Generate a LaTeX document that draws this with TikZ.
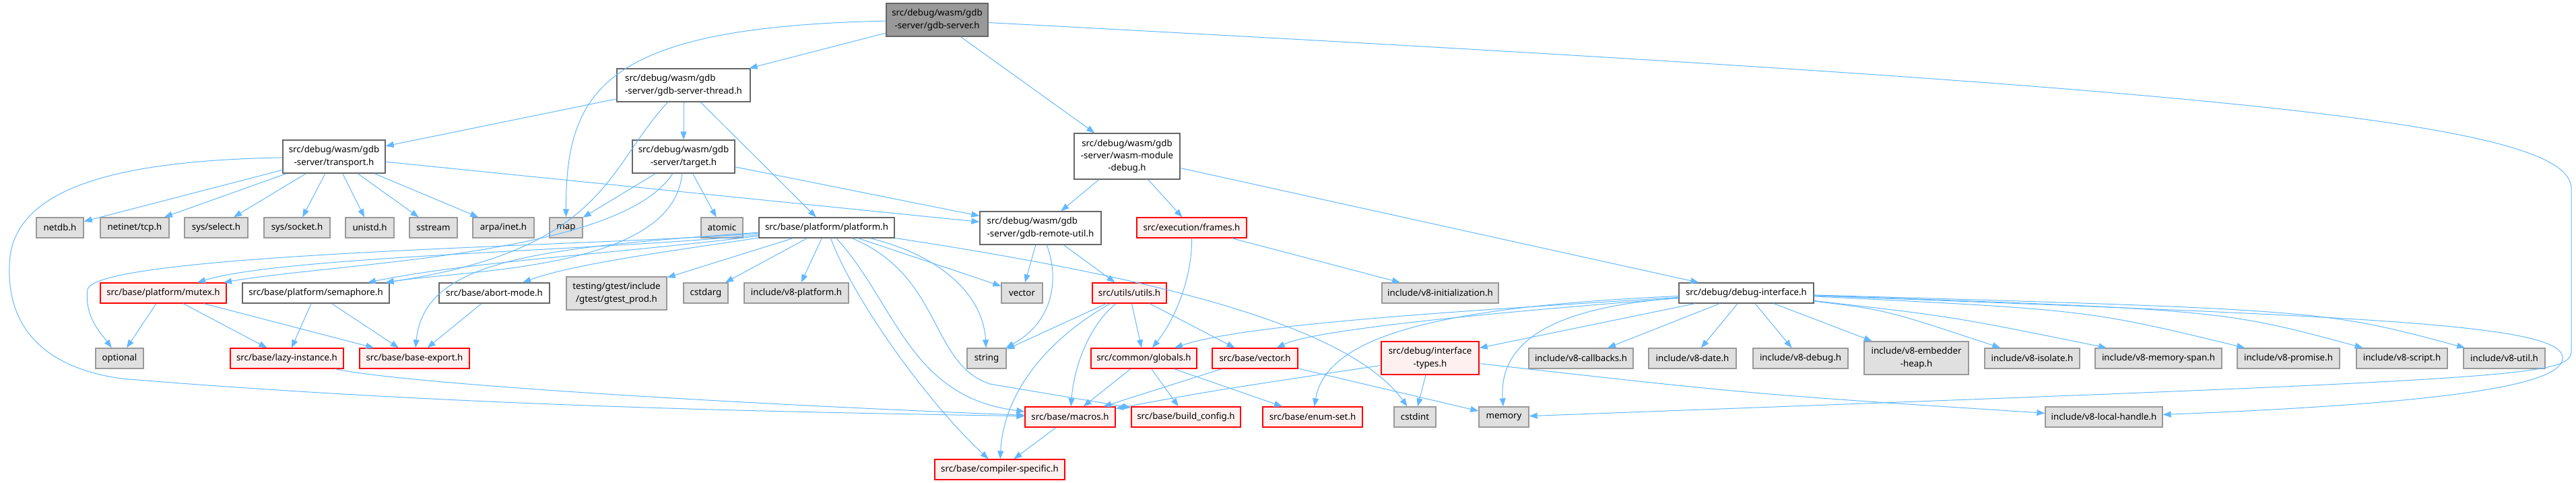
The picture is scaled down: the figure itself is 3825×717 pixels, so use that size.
\documentclass[tikz,border=0pt]{standalone}
\usepackage{fontspec}
\setsansfont{Noto Sans}
\usepackage{xcolor}
\usepackage{tikz}
\usetikzlibrary{arrows.meta}
\definecolor{edgeblue}{HTML}{63B8FF}
\definecolor{extfill}{HTML}{E0E0E0}
\definecolor{extline}{HTML}{999999}
\definecolor{hdrline}{HTML}{666666}
\definecolor{warnline}{HTML}{FF0000}
\definecolor{warnfill}{HTML}{FFF0F0}
\definecolor{curfill}{HTML}{999999}
\begin{document}
\begin{tikzpicture}[x=1pt, y=-1pt,
  box/.style={draw, line width=1.3pt, inner sep=0pt, minimum height=30pt,
              font=\fontsize{13.3}{18.3}\selectfont\sffamily, align=center},
  ext/.style={box, draw=extline, fill=extfill},
  hdr/.style={box, draw=hdrline, fill=white},
  warn/.style={box, draw=warnline, fill=warnfill},
  cur/.style={box, draw=hdrline, fill=curfill},
  ar/.style={-{Triangle[length=12pt, width=9pt]}, color=edgeblue, line width=1pt}
]
  \useasboundingbox (0,0) rectangle (3825,717);
  \node[cur, minimum width=151pt, minimum height=49pt] (gdbsrv) at (1391.5,29.5) {src/debug/wasm/gdb\\-server/gdb-server.h};
  \node[hdr, minimum width=198pt, minimum height=49pt, align=left] (thread) at (1015,126.5) {src/debug/wasm/gdb\\-server/gdb-server-thread.h};
  \node[hdr, minimum width=157pt, minimum height=68pt] (wmdebug) at (1673.5,232) {src/debug/wasm/gdb\\-server/wasm-module\\-debug.h};
  \node[hdr, minimum width=152pt, minimum height=49pt] (transport) at (496,232.5) {src/debug/wasm/gdb\\-server/transport.h};
  \node[hdr, minimum width=152pt, minimum height=49pt] (target) at (1015,232.5) {src/debug/wasm/gdb\\-server/target.h};

  \node[ext, minimum width=70pt] (netdb) at (89,338) {netdb.h};
  \node[ext, minimum width=102pt] (tcp) at (200,338) {netinet/tcp.h};
  \node[ext, minimum width=94pt] (sselect) at (321,338) {sys/select.h};
  \node[ext, minimum width=98pt] (ssocket) at (441,338) {sys/socket.h};
  \node[ext, minimum width=72pt] (unistd) at (549,338) {unistd.h};
  \node[ext, minimum width=71pt] (sstream) at (643.5,338) {sstream};
  \node[ext, minimum width=91pt] (inet) at (747.5,338) {arpa/inet.h};
  \node[ext, minimum width=49pt] (map) at (840.5,338) {map};
  \node[ext, minimum width=62pt] (atomic) at (1072,338) {atomic};
  \node[hdr, minimum width=201pt] (platform) at (1227.5,338) {src/base/platform/platform.h};
  \node[hdr, minimum width=180pt, minimum height=49pt, align=left] (remoteutil) at (1545,338.5) {src/debug/wasm/gdb\\-server/gdb-remote-util.h};
  \node[warn, minimum width=163pt] (frames) at (1769.5,338) {src/execution/frames.h};

  \node[warn, minimum width=187pt] (mutex) at (242.5,435) {src/base/platform/mutex.h};
  \node[hdr, minimum width=218pt] (semaphore) at (469,435) {src/base/platform/semaphore.h};
  \node[hdr, minimum width=164pt] (abortmode) at (734,435) {src/base/abort-mode.h};
  \node[ext, minimum width=149pt, minimum height=49pt] (gtest) at (915.5,435.5) {testing/gtest/include\\/gtest/gtest\_prod.h};
  \node[ext, minimum width=66pt] (cstdarg) at (1048,435) {cstdarg};
  \node[ext, minimum width=155pt] (v8platform) at (1182.5,435) {include/v8-platform.h};
  \node[ext, minimum width=61pt] (vector) at (1517.5,435) {vector};
  \node[warn, minimum width=110pt] (utils) at (1677,435) {src/utils/utils.h};
  \node[ext, minimum width=173pt] (v8init) at (2138.5,435) {include/v8-initialization.h};
  \node[hdr, minimum width=200pt] (dbgiface) at (2593,435) {src/debug/debug-interface.h};

  \node[ext, minimum width=71pt] (optional) at (177.5,532) {optional};
  \node[warn, minimum width=168pt] (lazy) at (426,532) {src/base/lazy-instance.h};
  \node[warn, minimum width=163pt] (baseexport) at (615.5,532) {src/base/base-export.h};
  \node[ext, minimum width=58pt] (string) at (1465,532) {string};
  \node[warn, minimum width=157pt] (globals) at (1698.5,532) {src/common/globals.h};
  \node[warn, minimum width=127pt] (basevector) at (1863.5,532) {src/base/vector.h};
  \node[warn, minimum width=145pt, minimum height=49pt] (ifacetypes) at (2123.5,531.5) {src/debug/interface\\-types.h};
  \node[ext, minimum width=155pt] (callbacks) at (2347.5,532) {include/v8-callbacks.h};
  \node[ext, minimum width=130pt] (v8date) at (2513,532) {include/v8-date.h};
  \node[ext, minimum width=141pt] (v8debug) at (2673.5,532) {include/v8-debug.h};
  \node[ext, minimum width=155pt, minimum height=49pt] (embedder) at (2845.5,531.5) {include/v8-embedder\\-heap.h};
  \node[ext, minimum width=141pt] (isolate) at (3017.5,532) {include/v8-isolate.h};
  \node[ext, minimum width=188pt] (memspan) at (3205,532) {include/v8-memory-span.h};
  \node[ext, minimum width=152pt] (promise) at (3398,532) {include/v8-promise.h};
  \node[ext, minimum width=135pt] (script) at (3566.5,532) {include/v8-script.h};
  \node[ext, minimum width=121pt] (v8util) at (3718.5,532) {include/v8-util.h};

  \node[warn, minimum width=134pt] (macros) at (1589,619) {src/base/macros.h};
  \node[warn, minimum width=162pt] (buildcfg) at (1761,619) {src/base/build\_config.h};
  \node[warn, minimum width=148pt] (enumset) at (1949,619) {src/base/enum-set.h};
  \node[ext, minimum width=62pt] (cstdint) at (2101,619) {cstdint};
  \node[ext, minimum width=74pt] (memory) at (2233,619) {memory};
  \node[ext, minimum width=174pt] (localhandle) at (3124,619) {include/v8-local-handle.h};
  \node[warn, minimum width=193pt] (compspec) at (1484.5,697) {src/base/compiler-specific.h};

  \draw[ar] (gdbsrv) -- (thread);
  \draw[ar] (gdbsrv) .. controls (900,40) and (840,130) .. (map);
  \draw[ar] (gdbsrv) -- (wmdebug);
  \draw[ar] (gdbsrv) .. controls (3300,131) and (3818,180) .. (3818,280) -- (3818,520)
            .. controls (3818,560) and (3760,562) .. (memory);

  \draw[ar] (thread) -- (transport);
  \draw[ar] (thread) -- (target);
  \draw[ar] (thread) -- (platform);
  \draw[ar] (thread) .. controls (900,250) and (900,370) .. (semaphore);

  \draw[ar] (target) -- (map);
  \draw[ar] (target) -- (atomic);
  \draw[ar] (target) -- (remoteutil);
  \draw[ar] (target) .. controls (920,380) and (500,390) .. (mutex);
  \draw[ar] (target) .. controls (1000,400) and (700,400) .. (semaphore);

  \draw[ar] (transport) -- (netdb);
  \draw[ar] (transport) -- (tcp);
  \draw[ar] (transport) -- (sselect);
  \draw[ar] (transport) -- (ssocket);
  \draw[ar] (transport) -- (unistd);
  \draw[ar] (transport) -- (sstream);
  \draw[ar] (transport) -- (inet);
  \draw[ar] (transport) -- (remoteutil);
  \draw[ar] (transport) .. controls (200,238) and (30,270) .. (15,380)
            .. controls (5,480) and (60,545) .. (180,562)
            .. controls (700,605) and (1200,612) .. (macros);

  \draw[ar] (platform) .. controls (900,365) and (140,375) .. (130,430)
            .. controls (125,470) and (150,495) .. (optional);
  \draw[ar] (platform) .. controls (900,372) and (420,380) .. (mutex);
  \draw[ar] (platform) .. controls (900,378) and (700,388) .. (semaphore);
  \draw[ar] (platform) .. controls (1000,372) and (850,392) .. (abortmode);
  \draw[ar] (platform) .. controls (800,368) and (630,385) .. (baseexport);
  \draw[ar] (platform) -- (gtest);
  \draw[ar] (platform) -- (cstdarg);
  \draw[ar] (platform) -- (v8platform);
  \draw[ar] (platform) -- (vector);
  \draw[ar] (platform) .. controls (1400,380) and (1460,440) .. (string);
  \draw[ar] (platform) .. controls (1270,450) and (1380,600) .. (compspec);
  \draw[ar] (platform) .. controls (1330,450) and (1350,590) .. (macros);
  \draw[ar] (platform) .. controls (1400,410) and (1380,540) .. (1470,570) -- (buildcfg);
  \draw[ar] (platform) .. controls (1700,410) and (2000,480) .. (cstdint);

  \draw[ar] (remoteutil) -- (vector);
  \draw[ar] (remoteutil) .. controls (1575,420) and (1560,480) .. (string);
  \draw[ar] (remoteutil) -- (utils);

  \draw[ar] (wmdebug) -- (remoteutil);
  \draw[ar] (wmdebug) -- (frames);
  \draw[ar] (wmdebug) -- (dbgiface);

  \draw[ar] (frames) .. controls (1770,420) and (1740,480) .. (globals);
  \draw[ar] (frames) -- (v8init);

  \draw[ar] (utils) -- (string);
  \draw[ar] (utils) -- (globals);
  \draw[ar] (utils) -- (basevector);
  \draw[ar] (utils) .. controls (1620,480) and (1595,540) .. (macros);
  \draw[ar] (utils) .. controls (1560,500) and (1490,580) .. (compspec);

  \draw[ar] (globals) -- (macros);
  \draw[ar] (globals) -- (buildcfg);
  \draw[ar] (globals) -- (enumset);
  \draw[ar] (basevector) -- (macros);
  \draw[ar] (basevector) -- (memory);
  \draw[ar] (macros) -- (compspec);
  \draw[ar] (lazy) .. controls (600,570) and (1100,600) .. (macros);

  \draw[ar] (mutex) -- (optional);
  \draw[ar] (mutex) -- (lazy);
  \draw[ar] (mutex) -- (baseexport);
  \draw[ar] (semaphore) -- (lazy);
  \draw[ar] (semaphore) -- (baseexport);
  \draw[ar] (abortmode) -- (baseexport);

  \draw[ar] (dbgiface) .. controls (2200,460) and (1850,480) .. (globals);
  \draw[ar] (dbgiface) .. controls (2200,465) and (1950,490) .. (basevector);
  \draw[ar] (dbgiface) .. controls (2150,455) and (1970,495) .. (enumset);
  \draw[ar] (dbgiface) -- (ifacetypes);
  \draw[ar] (dbgiface) .. controls (2320,455) and (2225,500) .. (memory);
  \draw[ar] (dbgiface) -- (callbacks);
  \draw[ar] (dbgiface) -- (v8date);
  \draw[ar] (dbgiface) -- (v8debug);
  \draw[ar] (dbgiface) -- (embedder);
  \draw[ar] (dbgiface) .. controls (2800,460) .. (isolate);
  \draw[ar] (dbgiface) .. controls (2900,470) .. (memspan);
  \draw[ar] (dbgiface) .. controls (3100,460) .. (promise);
  \draw[ar] (dbgiface) .. controls (3300,460) .. (script);
  \draw[ar] (dbgiface) .. controls (3450,460) .. (v8util);
  \draw[ar] (dbgiface) .. controls (3500,470) and (3800,480) .. (3805,530)
            .. controls (3810,575) and (3600,600) .. (localhandle);

  \draw[ar] (ifacetypes) -- (cstdint);
  \draw[ar] (ifacetypes) .. controls (1800,580) .. (macros);
  \draw[ar] (ifacetypes) .. controls (2600,585) .. (localhandle);
\end{tikzpicture}
\end{document}
